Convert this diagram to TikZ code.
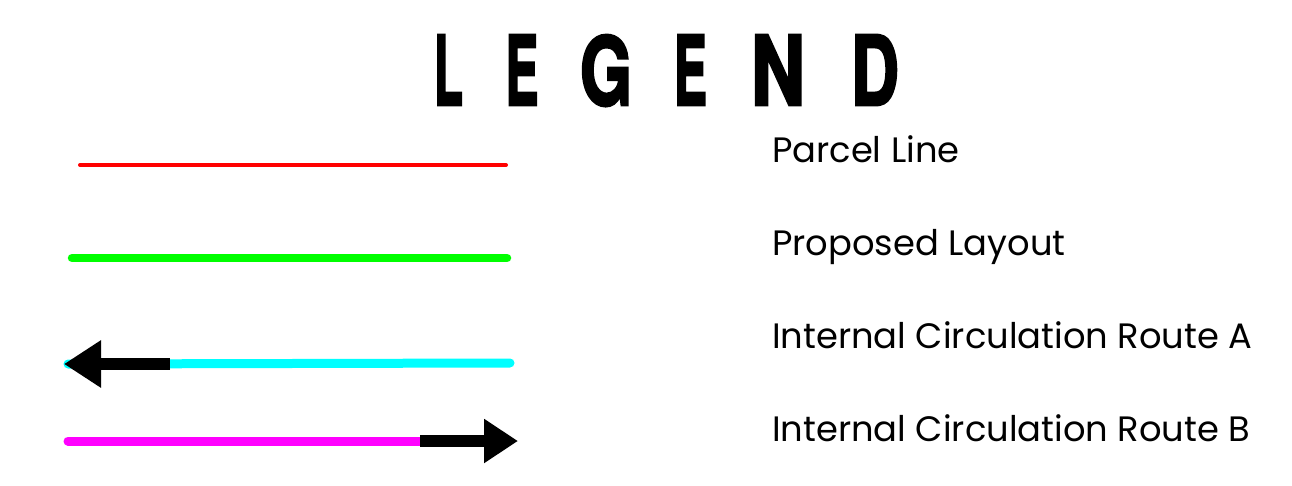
\documentclass[tikz,border=0pt]{standalone}
\usepackage{fontspec}
\usepackage{graphicx}
\setmainfont{Poppins}
\newfontfamily\titlefont[FakeBold=3]{TeX Gyre Heros}
\usetikzlibrary{arrows.meta}
\definecolor{pRed}{RGB}{255,0,0}
\definecolor{pGreen}{RGB}{0,255,0}
\definecolor{pCyan}{RGB}{0,255,255}
\definecolor{pMagenta}{RGB}{255,0,255}
\tikzset{
  lbl/.style={anchor=base west, inner sep=0pt, font=\fontsize{35.3}{40}\selectfont},
  ttl/.style={anchor=base, inner sep=0pt},
  sample/.style={line cap=round},
  blackarrow/.style={draw=black, line width=12pt, -{Triangle[length=37pt,width=45pt]}},
}
\newcommand{\tletter}[2]{\resizebox{#1pt}{70pt}{\titlefont\bfseries #2}}
\begin{document}
\begin{tikzpicture}[x=1pt,y=-1pt]
\useasboundingbox[fill=white] (0,0) rectangle (1292,485);
% title
\node[ttl] (t1) at (448.5,105) {\tletter{29}{L}};
\node[ttl] (t2) at (522,105) {\tletter{33}{E}};
\node[ttl] (t3) at (606,105) {\tletter{52}{G}};
\node[ttl] (t4) at (690.5,105) {\tletter{33}{E}};
\node[ttl] (t5) at (778,105) {\tletter{54}{N}};
\node[ttl] (t6) at (875,105) {\tletter{48}{D}};
% samples
\coordinate (r1) at (80,165); \coordinate (r2) at (506,165);
\draw[sample, pRed, line width=4pt] (r1) -- (r2);
\coordinate (g1) at (72,258); \coordinate (g2) at (507,258);
\draw[sample, pGreen, line width=8.5pt] (g1) -- (g2);
\coordinate (c1) at (68,364); \coordinate (c2) at (510,363);
\coordinate (ca) at (170,364); \coordinate (cb) at (64,364);
\draw[sample, pCyan, line width=9pt] (c1) -- (c2);
\draw[blackarrow] (ca) -- (cb);
\coordinate (m1) at (68,441); \coordinate (m2) at (420,441);
\coordinate (mb) at (518,441);
\draw[sample, pMagenta, line width=9pt] (m1) -- (m2);
\draw[blackarrow, -{Triangle[length=34pt,width=42pt]}] (m2) -- (mb);
% labels
\node[lbl] (l1) at (772,162) {Parcel Line};
\node[lbl] (l2) at (772,255) {Proposed Layout};
\node[lbl] (l3) at (772,348) {Internal Circulation Route A};
\node[lbl] (l4) at (772,441) {Internal Circulation Route B};
\end{tikzpicture}
\end{document}
